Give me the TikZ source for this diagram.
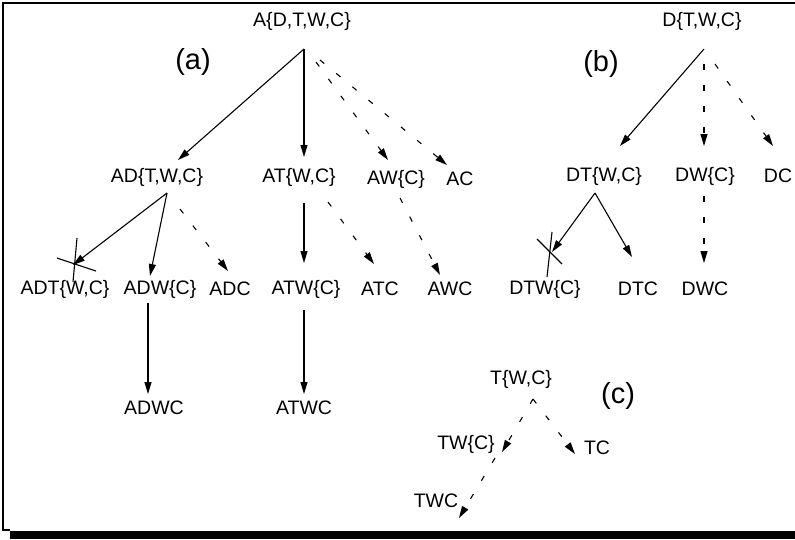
\documentclass[tikz,border=0pt]{standalone}
\usepackage{fontspec}
\setmainfont{Liberation Sans}
\usetikzlibrary{arrows.meta}
\tikzset{
  lbl/.style={inner sep=0pt, font=\fontsize{19.5}{19.5}\selectfont},
  tag/.style={inner sep=0pt, font=\fontsize{29}{29}\selectfont},
  edge/.style={line width=1.1pt, -{Triangle[length=12pt,width=7pt]}},
  dedge/.style={edge, dash pattern=on 5.5pt off 15.5pt},
  crossln/.style={line width=1.1pt},
}
\begin{document}
\begin{tikzpicture}[x=1pt,y=-1pt]
\useasboundingbox (0,0) rectangle (795,539);
% frame
\draw[line width=1.2pt] (795,3) -- (3,3) -- (3,530) -- (10,530);
\fill (10,530.5) rectangle (795,539);

% ---------- (a) ----------
\node[lbl] (A) at (302,21) {A\{D,T,W,C\}};
\node[tag] (la) at (193,62) {(a)};
\node[lbl] (AD) at (157,177) {AD\{T,W,C\}};
\node[lbl] (AT) at (299,177) {AT\{W,C\}};
\node[lbl] (AW) at (396,179) {AW\{C\}};
\node[lbl] (AC) at (460,179) {AC};
\node[lbl] (ADT) at (65,289) {ADT\{W,C\}};
\node[lbl] (ADW) at (160,289) {ADW\{C\}};
\node[lbl] (ADC) at (230,289) {ADC};
\node[lbl] (ATW) at (306,289) {ATW\{C\}};
\node[lbl] (ATC) at (380,289) {ATC};
\node[lbl] (AWC) at (450,289) {AWC};
\node[lbl] (ADWC) at (154,408) {ADWC};
\node[lbl] (ATWC) at (304,408) {ATWC};

\coordinate (Aap) at (304,49);
\coordinate (Aw0) at (316,62);
\coordinate (Ac0) at (320,60);
\coordinate (ADtip) at (178,160);
\coordinate (ATtip) at (304,157);
\coordinate (AWtip) at (388,160);
\coordinate (ACtip) at (447,165);
\coordinate (ADap) at (167,193);
\coordinate (ADd0) at (180,209);
\coordinate (ADTtip) at (73,265);
\coordinate (ADWtip) at (150,276);
\coordinate (ADCtip) at (228,271);
\coordinate (AT0) at (304,203);
\coordinate (AT1) at (328,202);
\coordinate (ATWtip) at (304,263);
\coordinate (ATCtip) at (374,264);
\coordinate (AW0) at (400,198);
\coordinate (AWCtip) at (440,275);
\coordinate (ADW0) at (148,303);
\coordinate (ADWCtip) at (148,394);
\coordinate (ATW0) at (304,310);
\coordinate (ATWCtip) at (304,394);
\coordinate (xa1) at (57,258);
\coordinate (xa2) at (96,271);
\coordinate (xa3) at (77,238);
\coordinate (xa4) at (73,282);

\draw[edge] (Aap) -- (ADtip);
\draw[edge] (Aap) -- (ATtip);
\draw[dedge] (Aw0) -- (AWtip);
\draw[dedge] (Ac0) -- (ACtip);
\draw[edge] (ADap) -- (ADTtip);
\draw[crossln] (xa1) -- (xa2);
\draw[crossln] (xa3) -- (xa4);
\draw[edge] (ADap) -- (ADWtip);
\draw[dedge] (ADd0) -- (ADCtip);
\draw[edge] (AT0) -- (ATWtip);
\draw[dedge] (AT1) -- (ATCtip);
\draw[dedge] (AW0) -- (AWCtip);
\draw[edge] (ADW0) -- (ADWCtip);
\draw[edge] (ATW0) -- (ATWCtip);

% ---------- (b) ----------
\node[lbl] (D) at (702,21) {D\{T,W,C\}};
\node[tag] (lb) at (601,64) {(b)};
\node[lbl] (DT) at (604,176) {DT\{W,C\}};
\node[lbl] (DW) at (705,176) {DW\{C\}};
\node[lbl] (DC) at (778,176) {DC};
\node[lbl] (DTW) at (545,289) {DTW\{C\}};
\node[lbl] (DTC) at (638,289) {DTC};
\node[lbl] (DWC) at (705,289) {DWC};

\coordinate (Dap) at (704,49);
\coordinate (Dd0) at (704,64);
\coordinate (Dc0) at (715,64);
\coordinate (DTtip) at (620,146);
\coordinate (DWtip) at (704,146);
\coordinate (DCtip) at (773,146);
\coordinate (DTap) at (595,193);
\coordinate (DTWtip) at (552,252);
\coordinate (DTCtip) at (632,257);
\coordinate (DW0) at (704,196);
\coordinate (DWCtip) at (704,263);
\coordinate (xb1) at (537,239);
\coordinate (xb2) at (562,264);
\coordinate (xb3) at (552,232);
\coordinate (xb4) at (547,277);

\draw[edge] (Dap) -- (DTtip);
\draw[dedge] (Dd0) -- (DWtip);
\draw[dedge] (Dc0) -- (DCtip);
\draw[edge] (DTap) -- (DTWtip);
\draw[crossln] (xb1) -- (xb2);
\draw[crossln] (xb3) -- (xb4);
\draw[edge] (DTap) -- (DTCtip);
\draw[dedge] (DW0) -- (DWCtip);

% ---------- (c) ----------
\node[lbl] (T) at (521,379) {T\{W,C\}};
\node[tag] (lc) at (618,396) {(c)};
\node[lbl] (TW) at (466,444) {TW\{C\}};
\node[lbl] (TC) at (597,448) {TC};
\node[lbl] (TWC) at (436,501) {TWC};

\coordinate (Tap) at (533,399);
\coordinate (TWtip) at (502,452);
\coordinate (TCtip) at (575,454);
\coordinate (TW0) at (495,458);
\coordinate (TWCtip) at (459,518);

\draw[dedge] (Tap) -- (TWtip);
\draw[dedge] (Tap) -- (TCtip);
\draw[dedge] (TW0) -- (TWCtip);
\end{tikzpicture}
\end{document}
